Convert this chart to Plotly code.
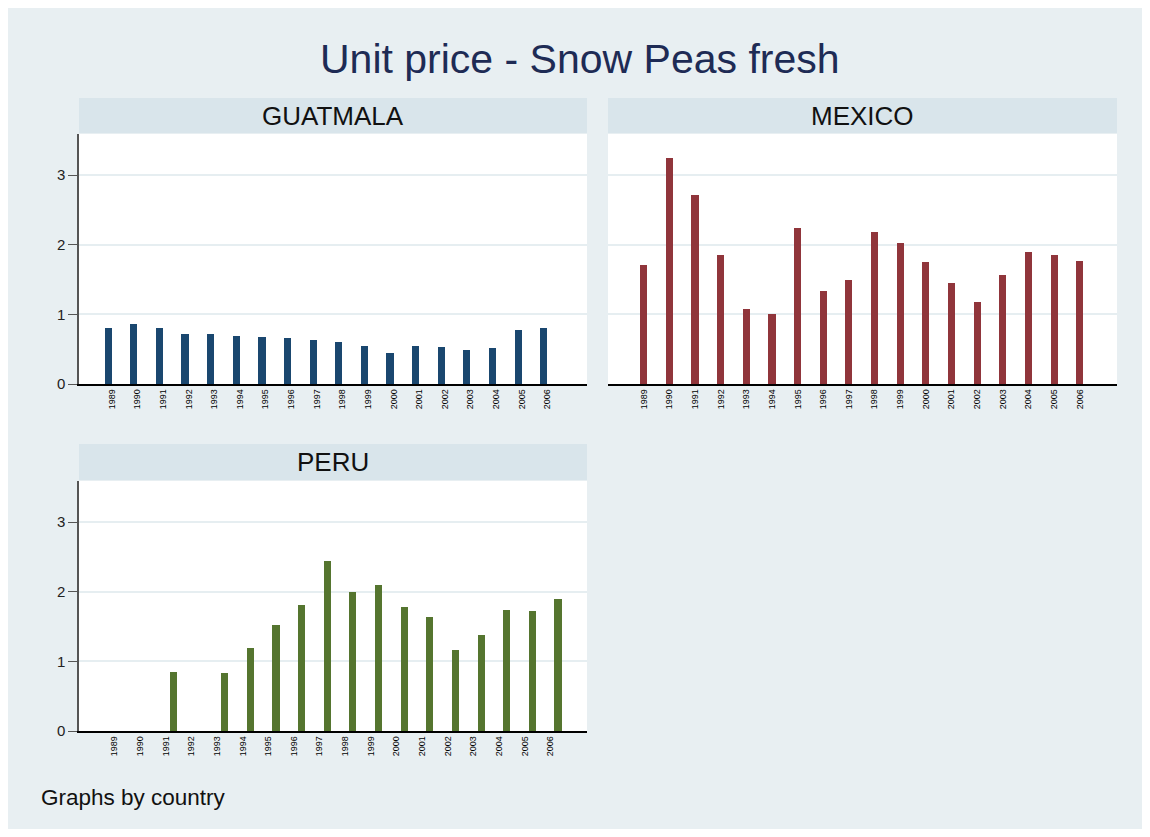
import plotly.graph_objects as go

# page body margin is 8px on every side; fit the figure inside the window
OFF = 8
W, H = 1150 - 2 * OFF, 837 - 2 * OFF

years = list(range(1989, 2007))
guatemala = [0.81, 0.86, 0.80, 0.72, 0.72, 0.69, 0.67, 0.66, 0.63, 0.60,
             0.55, 0.44, 0.55, 0.535, 0.49, 0.52, 0.77, 0.80]
mexico = [1.715, 3.25, 2.72, 1.85, 1.075, 1.00, 2.24, 1.34, 1.50, 2.18,
          2.03, 1.75, 1.45, 1.175, 1.56, 1.90, 1.85, 1.76]
peru = [None, None, 0.85, None, 0.83, 1.19, 1.52, 1.81, 2.44, 1.99,
        2.10, 1.78, 1.64, 1.17, 1.38, 1.74, 1.72, 1.90]
ytick_vals = [0, 1, 2, 3]

BG = "#e8eff2"
STRIP = "#d9e5eb"
GRID = "#e6eef1"
FONT = "Liberation Sans, Arial, sans-serif"


def px(x):
    return (x - OFF) / W


def py(y):
    return 1 - (y - OFF) / H


fig = go.Figure()
fig.add_trace(go.Bar(x=years, y=guatemala, marker=dict(color="#1a476f", line=dict(width=0)),
                     width=0.28, xaxis="x", yaxis="y", showlegend=False))
fig.add_trace(go.Bar(x=years, y=mexico, marker=dict(color="#90353b", line=dict(width=0)),
                     width=0.28, xaxis="x2", yaxis="y2", showlegend=False))
fig.add_trace(go.Bar(x=years, y=peru, marker=dict(color="#55752f", line=dict(width=0)),
                     width=0.28, xaxis="x3", yaxis="y3", showlegend=False))


def xaxis_style(label_shift):
    return dict(showline=True, linecolor="#000000", linewidth=1.5, ticks="",
                tickangle=-90, tickfont=dict(size=9, color="#000", family=FONT),
                tickvals=[y + label_shift for y in years],
                ticktext=[str(y) for y in years], automargin=False,
                showgrid=False, zeroline=False, fixedrange=True)


ycommon = dict(range=[0, 3.59], tickvals=ytick_vals, showgrid=True, gridcolor=GRID,
               gridwidth=2, zeroline=False, fixedrange=True, automargin=False)
yshown = dict(showline=True, linecolor="#555555", linewidth=1.5, ticks="outside",
              ticklen=9, tickcolor="#555555", tickwidth=1,
              tickfont=dict(size=15, color="#222", family=FONT))

top_dom = [py(384), py(134)]
bot_dom = [py(731), py(481)]
left_dom = [px(79), px(587)]
right_dom = [px(608), px(1117)]

fig.update_layout(
    width=W, height=H, autosize=False,
    margin=dict(l=0, r=0, t=0, b=0, pad=0, autoexpand=False),
    paper_bgcolor=BG, plot_bgcolor="white",
    bargap=0, showlegend=False,
    font=dict(family=FONT),
    xaxis=dict(domain=left_dom, anchor="y", range=[1987.86, 2007.69], **xaxis_style(0.14)),
    yaxis=dict(domain=top_dom, anchor="x", **ycommon, **yshown),
    xaxis2=dict(domain=right_dom, anchor="y2", range=[1987.61, 2007.45], **xaxis_style(0.0)),
    yaxis2=dict(domain=top_dom, anchor="x2", showticklabels=False, showline=False, **ycommon),
    xaxis3=dict(domain=left_dom, anchor="y3", range=[1987.32, 2007.13], **xaxis_style(-0.3)),
    yaxis3=dict(domain=bot_dom, anchor="x3", **ycommon, **yshown),
)

shapes = []
strips = [
    (79, 587, 98, 133, "GUATMALA"),
    (608, 1117, 98, 133, "MEXICO"),
    (79, 587, 444, 480, "PERU"),
]
annotations = []
for x0, x1, y0, y1, label in strips:
    shapes.append(dict(type="rect", xref="paper", yref="paper", x0=px(x0), x1=px(x1),
                       y0=py(y1), y1=py(y0), fillcolor=STRIP, line=dict(width=0),
                       layer="below"))
    annotations.append(dict(text=label, xref="paper", yref="paper",
                            x=px((x0 + x1) / 2), y=py((y0 + y1) / 2),
                            xanchor="center", yanchor="middle", showarrow=False,
                            font=dict(size=26, color="#111", family=FONT)))

annotations.append(dict(text="Unit price - Snow Peas fresh", xref="paper", yref="paper",
                        x=px(580), y=py(59), xanchor="center", yanchor="middle",
                        showarrow=False, font=dict(size=41, color="#1e2b55", family=FONT)))
annotations.append(dict(text="Graphs by country", xref="paper", yref="paper",
                        x=px(39), y=py(797), xanchor="left", yanchor="middle",
                        showarrow=False, font=dict(size=22.5, color="#111", family=FONT)))

fig.update_layout(shapes=shapes, annotations=annotations)
fig.write_html("out.html")
